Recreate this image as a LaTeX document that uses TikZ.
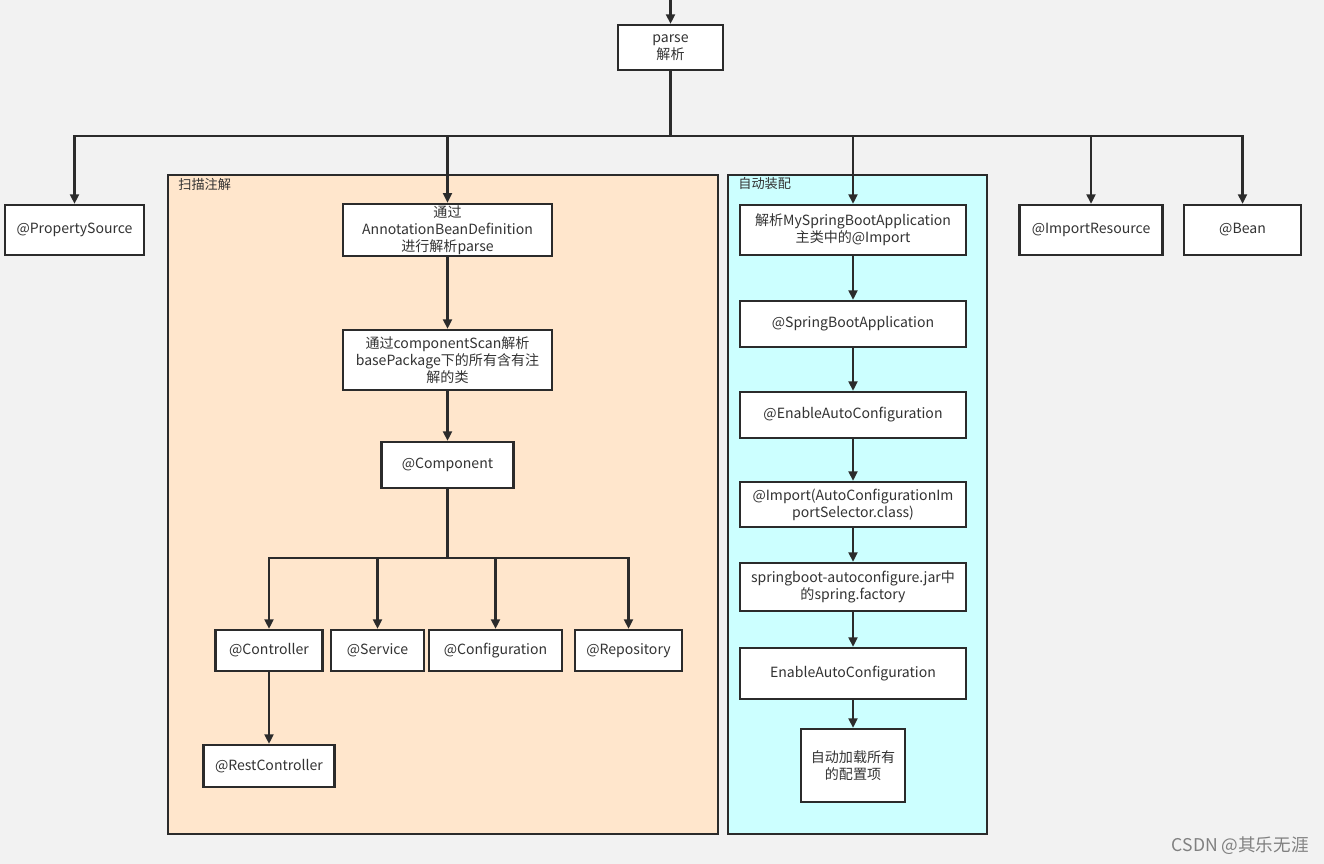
\documentclass[tikz,border=0pt]{standalone}
\usepackage{fontspec}
\setmainfont{Noto Sans CJK SC}
\usepackage{tikz}
\usetikzlibrary{arrows.meta, positioning}

\definecolor{linegray}{HTML}{2B2B2B}
\definecolor{txtgray}{HTML}{333333}
\definecolor{bggray}{HTML}{F2F2F2}
\definecolor{scanfill}{HTML}{FFE6CC}
\definecolor{autofill}{HTML}{CCFFFF}

\tikzset{
	box/.style={draw=linegray, line width=1.2pt, fill=white, text=txtgray, align=center,
		inner sep=1pt, font=\fontsize{8}{9.6}\selectfont},
	flow/.style={->, line width=1.4pt, draw=linegray},
	group/.style={draw=linegray, line width=1.2pt},
	grouplabel/.style={anchor=west, inner sep=0pt, text=txtgray, font=\fontsize{7.5}{9}\selectfont}
}

\begin{document}
\begin{tikzpicture}[x=0.02cm, y=-0.02cm, >={Triangle[length=5.5pt,width=5pt]}]
			\useasboundingbox[fill=bggray] (0,0) rectangle (1324,864);

			% groups
			\draw[group, fill=scanfill] (168,175) rectangle (718,834);
			\draw[group, fill=autofill] (728,175) rectangle (987,834);
			\node[grouplabel] at (178,184) (scanlbl) {扫描注解};
			\node[grouplabel] at (738,184) (autolbl) {自动装配};

			% top row
			\node[box, minimum width=2.1cm, minimum height=0.9cm] at (670.5,47.5) (parse) {parse\\解析};
			\node[box, minimum width=2.78cm, minimum height=1cm] at (74.5,230) (prop) {@PropertySource};
			\node[box, minimum width=4.18cm, minimum height=1cm] at (447.5,230) (annot) {通过\\AnnotationBeanDefinition\\进行解析parse};
			\node[box, minimum width=4.52cm, minimum height=1cm] at (853,230) (mainimp) {解析MySpringBootApplication\\主类中的@Import};
			\node[box, minimum width=2.86cm, minimum height=1cm] at (1091,230) (impres) {@ImportResource};
			\node[box, minimum width=2.34cm, minimum height=1cm] at (1242.5,230) (bean) {@Bean};

			% scan column
			\node[box, minimum width=4.18cm, minimum height=1.2cm] at (447.5,360) (scan) {通过componentScan解析\\basePackage下的所有含有注\\解的类};
			\node[box, minimum width=2.64cm, minimum height=0.92cm] at (447.5,465) (comp) {@Component};
			\node[box, minimum width=2.14cm, minimum height=0.82cm] at (269,650.5) (ctrl) {@Controller};
			\node[box, minimum width=1.86cm, minimum height=0.82cm] at (377.5,650.5) (svc) {@Service};
			\node[box, minimum width=2.66cm, minimum height=0.82cm] at (495.5,650.5) (conf) {@Configuration};
			\node[box, minimum width=2.14cm, minimum height=0.82cm] at (628.5,650.5) (repo) {@Repository};
			\node[box, minimum width=2.62cm, minimum height=0.84cm] at (269,766) (rest) {@RestController};

			% auto column
			\node[box, minimum width=4.52cm, minimum height=0.92cm] at (853,324) (sba) {@SpringBootApplication};
			\node[box, minimum width=4.52cm, minimum height=0.92cm] at (853,415) (eac) {@EnableAutoConfiguration};
			\node[box, minimum width=4.52cm, minimum height=0.9cm] at (853,504.5) (imp) {@Import(AutoConfigurationIm\\portSelector.class)};
			\node[box, minimum width=4.52cm, minimum height=0.96cm] at (853,587) (jar) {springboot-autoconfigure.jar中\\的spring.factory};
			\node[box, minimum width=4.52cm, minimum height=1.02cm] at (853,673.5) (enable) {EnableAutoConfiguration};
			\node[box, minimum width=2.08cm, minimum height=1.46cm] at (853,765.5) (load) {自动加载所有\\的配置项};

			\coordinate (entry) at (670.5,0);
			\coordinate (topbus) at (670.5,136);
			\coordinate (compbus) at (447.5,558);

			\draw[flow] (entry) -- (parse);
			\draw[flow, -] (parse) -- (topbus);
			\foreach \to in {prop, annot, mainimp, impres, bean}
				\draw[flow] (topbus) -| (\to);

			\draw[flow, -] (comp) -- (compbus);
			\foreach \to in {ctrl, svc, conf, repo}
				\draw[flow] (compbus) -| (\to);

			\foreach \from/\to in {
				annot/scan, scan/comp, ctrl/rest,
				mainimp/sba, sba/eac, eac/imp, imp/jar, jar/enable, enable/load}
				\draw[flow] (\from) -- (\to);

			\node[anchor=east, inner sep=0pt, text=gray, font=\fontsize{10}{12}\selectfont] at (1309,846) (mark) {CSDN @其乐无涯};
		\end{tikzpicture}
\end{document}
